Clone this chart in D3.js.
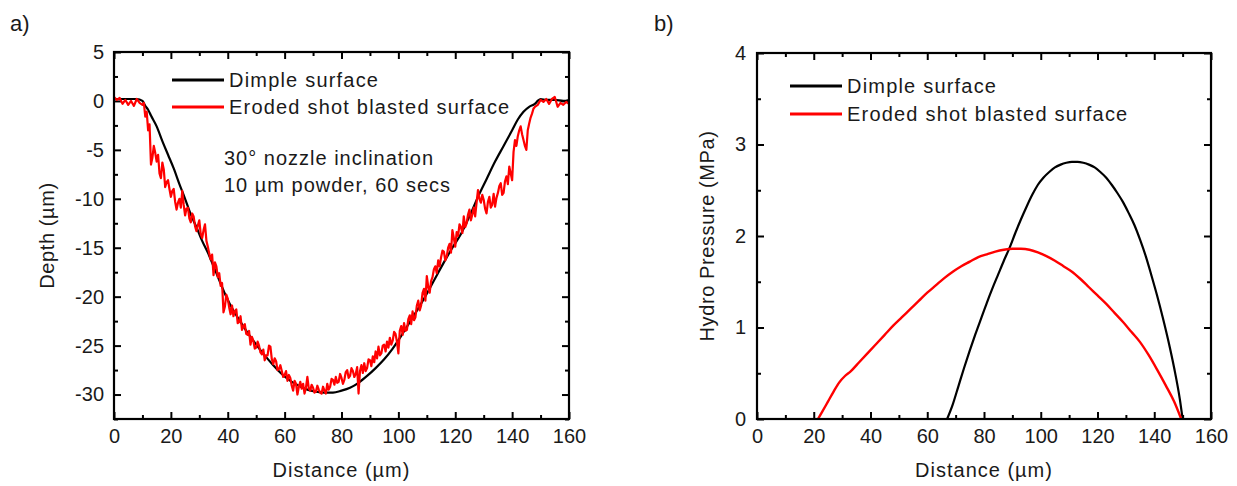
<!DOCTYPE html>
<html><head><meta charset="utf-8">
<script src="https://cdn.jsdelivr.net/npm/d3@7/dist/d3.min.js"></script>
<style>
body{margin:0;background:#fff;}
svg text{font-family:"Liberation Sans",Arial,sans-serif;fill:#1a1a1a;}
</style></head><body>
<svg id="chart" width="1237" height="486"></svg>
<script>
// ---------- data ----------
const xTicks = [0,20,40,60,80,100,120,140,160];
const xMinorTicks = [10,30,50,70,90,110,130,150];
const depthTicks = [-30,-25,-20,-15,-10,-5,0,5];
const depthMinorTicks = [-32.5,-27.5,-22.5,-17.5,-12.5,-7.5,-2.5,2.5];
const pressureTicks = [0,1,2,3,4];
const pressureMinorTicks = [0.5,1.5,2.5,3.5];
const seriesNames = ["Dimple surface","Eroded shot blasted surface"];
const annotationLines = ["30° nozzle inclination","10 µm powder, 60 secs"];

// panel a: dimple depth profile [distance µm, depth µm]
const dimpleDepth = [[0,0.2],[2,0.2],[4,0.2],[6,0.2],[8,0.2],[10,0.0],[11,-0.5],[12,-0.9],[13,-1.5],[15,-2.6],[17,-4.1],[19,-5.5],[21,-6.9],[23,-8.5],[25,-10.0],[27,-11.6],[29,-12.9],[31,-14.3],[33,-15.5],[35,-16.9],[37,-18.3],[39,-19.7],[41,-20.9],[43,-21.9],[45,-22.8],[47,-23.7],[50,-24.9],[53,-26.0],[56,-27.0],[59,-27.9],[62,-28.6],[65,-29.1],[68,-29.5],[71,-29.7],[74,-29.8],[77,-29.8],[80,-29.6],[83,-29.3],[86,-28.8],[89,-28.1],[92,-27.3],[95,-26.4],[98,-25.3],[101,-24.0],[104,-22.6],[107,-21.2],[110,-19.7],[113,-18.1],[116,-16.5],[119,-15.0],[122,-13.6],[125,-11.8],[128,-9.8],[131,-8.0],[134,-6.2],[137,-4.6],[140,-3.0],[142,-1.9],[144,-1.1],[146,-0.6],[148,-0.3],[149,0.0],[150,0.2],[152,0.1],[155,0.1],[158,0.0],[160,0.1]];

// panel a: eroded shot blasted depth profile [distance µm, depth µm]
const erodedDepth = [[0,0.4],[1,0.1],[2,0.3],[3,-0.3],[4,0.1],[5,-0.4],[6,0.0],[7,-0.5],[8,0.2],[9,-0.2],
[10,-0.4],[10.5,-0.2],[11,-1.6],[11.5,-1.1],[12,-3.0],[12.5,-2.4],[13,-6.5],[13.5,-5.8],[14,-4.6],[14.5,-5.3],
[15,-6.2],[15.5,-5.5],[16,-7.4],[16.5,-7.9],[17,-6.3],[17.5,-7.0],[18,-8.8],[18.5,-8.3],[19,-8.1],[19.5,-9.0],
[20,-9.8],[20.5,-9.2],[21,-9.0],[21.5,-10.3],[22,-11.1],[22.5,-10.4],[23,-10.0],[23.5,-10.9],[24,-9.2],[24.5,-10.6],
[25,-11.7],[25.5,-11.0],[26,-10.9],[26.5,-12.0],[27,-12.4],[27.5,-11.5],[28,-11.8],[28.5,-12.8],[29,-13.3],[29.5,-12.7],
[30,-12.2],[30.5,-13.6],[31,-14.0],[31.5,-13.2],[32,-12.6],[32.5,-14.3],[33,-14.9],[33.5,-15.6],[34,-16.2],[34.5,-15.7],
[35,-17.8],[35.5,-16.5],[36,-16.9],[36.5,-18.0],[37,-17.6],[37.5,-18.9],[38,-18.6],[38.5,-21.6],[39,-21.0],[39.5,-19.8],
[40,-20.2],[40.5,-21.1],[41,-21.8],[41.5,-20.9],[42,-22.0],[42.5,-21.5],[43,-21.3],[43.5,-22.7],[44,-22.6],[44.5,-22.0],
[45,-23.4],[45.5,-23.0],[46,-22.8],[46.5,-23.8],[47,-23.9],[47.5,-23.5],[48,-24.9],[48.5,-24.1],[49,-24.5],[49.5,-25.3],
[50,-25.2],[50.5,-24.6],[51,-25.0],[51.5,-25.7],[52,-25.9],[52.5,-25.4],[53,-26.5],[53.5,-26.0],[54,-26.0],[54.5,-25.0],
[55,-25.1],[55.5,-26.4],[56,-26.9],[56.5,-26.3],[57,-26.6],[57.5,-27.5],[58,-27.4],[58.5,-27.0],[59,-27.6],[59.5,-28.2],
[60,-28.0],[60.5,-27.6],[61,-28.6],[61.5,-28.0],[62,-28.3],[62.5,-29.1],[63,-29.6],[63.5,-28.6],[64,-28.9],[64.5,-30.0],
[65,-29.2],[65.5,-28.7],[66,-29.4],[66.5,-28.9],[67,-29.9],[67.5,-29.3],[68,-28.2],[68.5,-29.4],[69,-29.6],[69.5,-29.0],
[70,-29.3],[70.5,-29.8],[71,-29.7],[71.5,-29.1],[72,-29.5],[72.5,-29.8],[73,-29.9],[73.5,-29.2],[74,-29.6],[74.5,-29.9],
[75,-28.9],[75.5,-29.5],[76,-29.2],[76.5,-28.4],[77,-28.5],[77.5,-29.0],[78,-28.2],[78.5,-28.8],[79,-28.7],[79.5,-27.9],
[80,-28.3],[80.5,-28.9],[81,-28.5],[81.5,-27.7],[82,-27.5],[82.5,-28.3],[83,-28.1],[83.5,-27.3],[84,-27.6],[84.5,-28.2],
[85,-27.9],[85.5,-27.2],[86,-29.9],[86.5,-27.6],[87,-27.0],[87.5,-27.8],[88,-26.8],[88.5,-27.6],[89,-27.3],[89.5,-26.4],
[90,-26.5],[90.5,-27.1],[91,-26.1],[91.5,-26.7],[92,-25.6],[92.5,-26.3],[93,-25.1],[93.5,-26.0],[94,-25.8],[94.5,-25.0],
[95,-24.9],[95.5,-25.6],[96,-24.6],[96.5,-25.2],[97,-24.2],[97.5,-24.9],[98,-24.5],[98.5,-23.6],[99,-23.8],[99.5,-24.6],
[100,-25.8],[100.5,-23.5],[101,-23.0],[101.5,-23.9],[102,-22.7],[102.5,-23.5],[103,-23.4],[103.5,-22.3],[104,-21.9],[104.5,-22.8],
[105,-21.5],[105.5,-22.4],[106,-22.1],[106.5,-20.9],[107,-20.4],[107.5,-21.4],[108,-20.9],[108.5,-19.6],[109,-19.2],[109.5,-20.4],
[110,-17.9],[110.5,-19.0],[111,-19.6],[111.5,-18.4],[112,-18.0],[112.5,-17.2],[113,-16.9],[113.5,-17.6],[114,-16.3],[114.5,-16.9],
[115,-16.0],[115.5,-15.3],[116,-15.4],[116.5,-16.3],[117,-15.9],[117.5,-15.0],[118,-14.6],[118.5,-15.5],[119,-13.2],[119.5,-14.0],
[120,-14.9],[120.5,-13.4],[121,-13.8],[121.5,-12.6],[122,-12.9],[122.5,-13.5],[123,-11.8],[123.5,-12.9],[124,-12.5],[124.5,-11.6],
[125,-11.1],[125.5,-12.2],[126,-11.6],[126.5,-10.9],[127,-11.8],[127.5,-10.4],[128,-9.1],[128.5,-10.0],[129,-10.4],[129.5,-9.6],
[130,-10.1],[130.5,-11.0],[131,-11.5],[131.5,-10.3],[132,-9.8],[132.5,-10.9],[133,-10.6],[133.5,-9.5],[134,-10.8],[134.5,-9.9],
[135,-9.4],[135.5,-8.7],[136,-8.4],[136.5,-9.6],[137,-9.4],[137.5,-8.2],[138,-7.7],[138.5,-8.5],[139,-6.7],[139.5,-7.4],
[140,-8.1],[140.5,-5.2],[141,-4.0],[141.5,-4.6],[142,-3.6],[142.5,-3.0],[143,-2.6],[143.5,-3.4],[144,-4.0],[144.5,-4.6],
[145,-5.0],[145.5,-3.0],[146,-2.3],[146.5,-1.7],[147,-1.3],[147.5,-0.8],[148,-0.6],[149,-0.4],
[150,0.1],[151,-0.1],[152,0.2],[153,-0.3],[154,0.2],[155,0.4],[156,-0.6],[157,-0.2],[158,-0.4],[159,-0.1],[160,-0.3]];

// panel b: hydro pressure [distance µm, MPa]
const dimplePressure = [[67,0],[69,0.16],[71,0.36],[73,0.56],[75,0.75],[77,0.93],[79,1.10],[81,1.27],[83,1.43],[85,1.58],[87,1.73],[89,1.87],[91,2.03],[93,2.18],[95,2.32],[97,2.45],[99,2.56],[101,2.64],[103,2.70],[105,2.75],[107,2.78],[109,2.80],[111,2.81],[113,2.81],[115,2.80],[117,2.78],[119,2.75],[121,2.70],[123,2.64],[125,2.56],[127,2.47],[129,2.37],[131,2.25],[133,2.12],[135,1.96],[137,1.78],[139,1.57],[141,1.35],[143,1.11],[145,0.85],[147,0.56],[149,0.22],[150,0]];
const erodedPressure = [[21.5,0],[23,0.08],[25,0.19],[27,0.30],[29,0.40],[31,0.47],[33,0.52],[36,0.62],[39,0.72],[42,0.82],[45,0.92],[48,1.02],[51,1.11],[54,1.20],[57,1.29],[60,1.38],[63,1.46],[66,1.54],[69,1.61],[72,1.67],[75,1.72],[78,1.77],[81,1.80],[84,1.83],[87,1.85],[90,1.86],[93,1.86],[96,1.85],[99,1.82],[102,1.78],[105,1.73],[108,1.67],[111,1.61],[114,1.53],[117,1.44],[120,1.35],[123,1.26],[126,1.16],[129,1.06],[132,0.95],[135,0.84],[138,0.70],[141,0.54],[144,0.37],[147,0.19],[149.5,0]];

// ---------- drawing ----------
const svg = d3.select("#chart");
const colors = {dimple:"#000000", eroded:"#ff0000"};

function drawPanel(cfg){
  const x = d3.scaleLinear().domain([0,160]).range([cfg.left, cfg.right]);
  const y = d3.scaleLinear().domain(cfg.yDomain).range([cfg.bottom, cfg.top]);
  const g = svg.append("g");

  const minor = (axis, tr) => g.append("g").attr("transform", tr).call(axis).call(s=>{s.select(".domain").remove(); s.selectAll("line").attr("stroke","#000").attr("stroke-width",2);});
  minor(d3.axisBottom(x).tickValues(xMinorTicks).tickSize(-4).tickFormat(""), `translate(0,${cfg.bottom})`);
  minor(d3.axisTop(x).tickValues(xMinorTicks).tickSize(-4).tickFormat(""), `translate(0,${cfg.top})`);
  minor(d3.axisLeft(y).tickValues(cfg.yMinor).tickSize(-4).tickFormat(""), `translate(${cfg.left},0)`);
  minor(d3.axisRight(y).tickValues(cfg.yMinor).tickSize(-4).tickFormat(""), `translate(${cfg.right},0)`);

  const styleAxis = s => {s.select(".domain").remove(); s.selectAll("line").attr("stroke","#000").attr("stroke-width",2); s.selectAll("text").attr("font-size",20).attr("fill","#1a1a1a").style("font-family",'"Liberation Sans",Arial,sans-serif');};
  g.append("g").attr("transform",`translate(0,${cfg.bottom})`)
    .call(d3.axisBottom(x).tickValues(xTicks).tickSize(-7).tickPadding(10).tickFormat(d3.format("d"))).call(styleAxis);
  g.append("g").attr("transform",`translate(0,${cfg.top})`)
    .call(d3.axisTop(x).tickValues(xTicks).tickSize(-7).tickFormat("")).call(styleAxis);
  g.append("g").attr("transform",`translate(${cfg.left},0)`)
    .call(d3.axisLeft(y).tickValues(cfg.yTicks).tickSize(-7).tickPadding(cfg.yPad).tickFormat(d3.format("d"))).call(styleAxis);
  g.append("g").attr("transform",`translate(${cfg.right},0)`)
    .call(d3.axisRight(y).tickValues(cfg.yTicks).tickSize(-7).tickFormat("")).call(styleAxis);
  g.selectAll("text").filter(function(){return this.textContent.startsWith("−");}).text(function(){return this.textContent.replace("−","-");});

  const clipId = "clip"+cfg.id;
  svg.append("clipPath").attr("id",clipId).append("rect")
    .attr("x",cfg.left).attr("y",cfg.top).attr("width",cfg.right-cfg.left).attr("height",cfg.bottom-cfg.top);

  const line = d3.line().x(d=>x(d[0])).y(d=>y(d[1]));
  const lineSmooth = d3.line().x(d=>x(d[0])).y(d=>y(d[1])).curve(d3.curveMonotoneX);
  const plot = g.append("g").attr("clip-path",`url(#${clipId})`);
  cfg.series.forEach(s=>{
    plot.append("path").datum(s.data).attr("fill","none").attr("stroke",s.color)
      .attr("stroke-width",s.width).attr("stroke-linejoin","round")
      .attr("d", s.smooth ? lineSmooth : line);
  });

  g.append("rect").attr("x",cfg.left).attr("y",cfg.top).attr("width",cfg.right-cfg.left).attr("height",cfg.bottom-cfg.top)
    .attr("fill","none").attr("stroke","#000").attr("stroke-width",2.2);

  const lg = g.append("g");
  seriesNames.forEach((name,i)=>{
    const ly = cfg.legendY[i];
    lg.append("line").attr("x1",cfg.legendX).attr("x2",cfg.legendX+52).attr("y1",ly).attr("y2",ly)
      .attr("stroke", i===0?colors.dimple:colors.eroded).attr("stroke-width",3);
    lg.append("text").attr("x",cfg.legendX+57).attr("y",ly).attr("dy","0.35em")
      .attr("font-size",20).attr("letter-spacing",cfg.ls).text(name);
  });

  g.append("text").attr("x",(cfg.left+cfg.right)/2).attr("y",470).attr("dy","0.35em")
    .attr("text-anchor","middle").attr("font-size",20).attr("letter-spacing",1).text("Distance (µm)");
  g.append("text").attr("transform",`translate(${cfg.yTitleX},${(cfg.top+cfg.bottom)/2}) rotate(-90)`)
    .attr("dy","0.35em").attr("text-anchor","middle").attr("font-size",20).attr("letter-spacing",0.6).text(cfg.yTitle);

  svg.append("text").attr("x",cfg.labelX).attr("y",23).attr("dy","0.35em").attr("font-size",22)
    .attr("fill","#222").text(cfg.label);
  return {x,y,g};
}

const pa = drawPanel({
  id:"a", left:114, right:569, top:52, bottom:419,
  yDomain:[-32.5,5], yTicks:depthTicks, yMinor:depthMinorTicks, yPad:10,
  series:[{data:dimpleDepth,color:colors.dimple,width:2.2,smooth:true},
          {data:erodedDepth,color:colors.eroded,width:2.2,smooth:false}],
  legendX:172, legendY:[80,107], ls:1.2,
  yTitle:"Depth (µm)", yTitleX:47, label:"a)", labelX:10
});
annotationLines.forEach((t,i)=>{
  pa.g.append("text").attr("x",224).attr("y",158+i*27).attr("dy","0.35em")
    .attr("font-size",20).attr("letter-spacing",1).text(t);
});

drawPanel({
  id:"b", left:757, right:1211, top:53, bottom:419,
  yDomain:[0,4], yTicks:pressureTicks, yMinor:pressureMinorTicks, yPad:11,
  series:[{data:dimplePressure,color:colors.dimple,width:2.2,smooth:true},
          {data:erodedPressure,color:colors.eroded,width:2.4,smooth:true}],
  legendX:790, legendY:[86,114], ls:1.2,
  yTitle:"Hydro Pressure (MPa)", yTitleX:707, label:"b)", labelX:654
});
</script>
</body></html>
